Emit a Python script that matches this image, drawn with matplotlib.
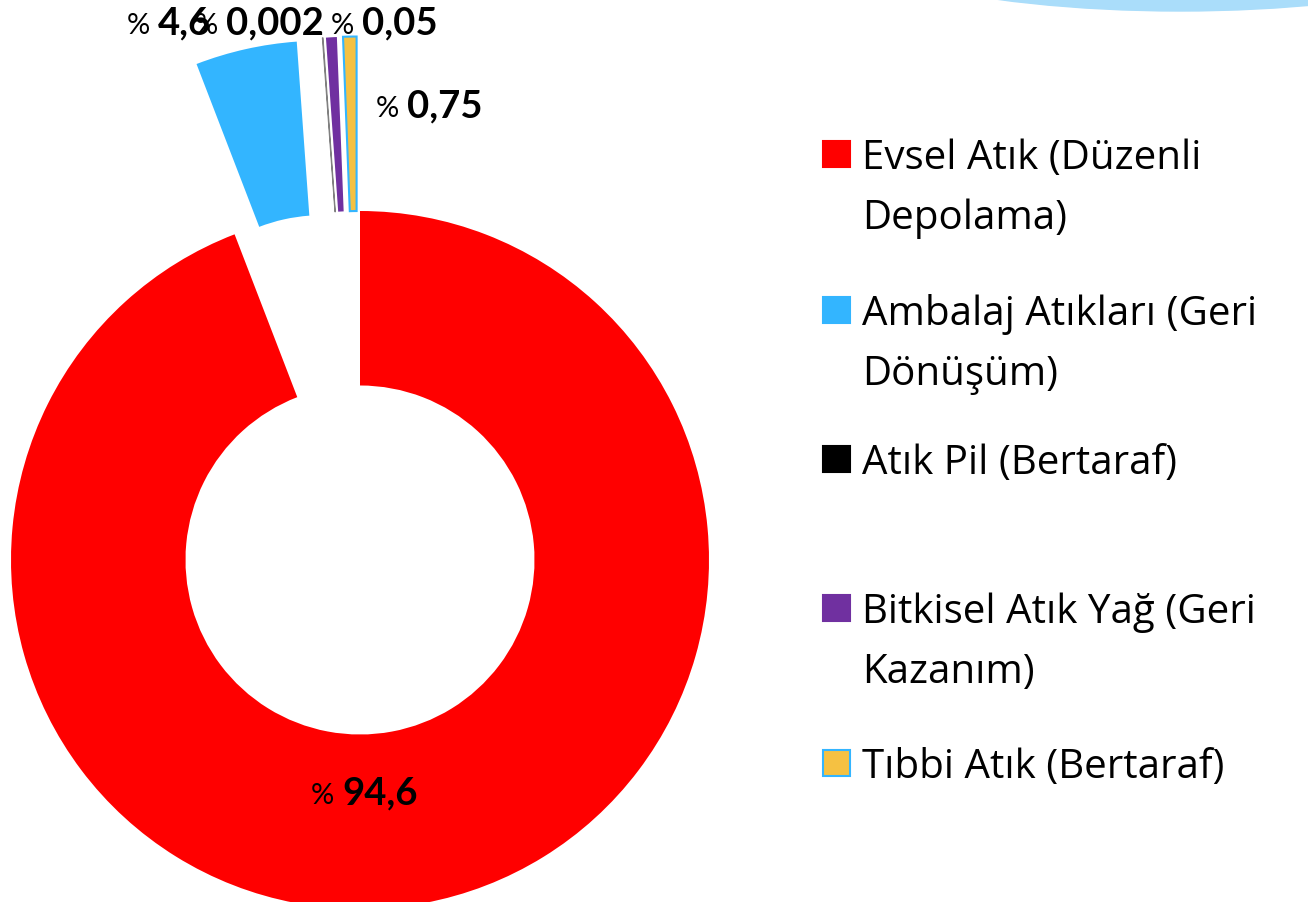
import matplotlib.pyplot as plt
from matplotlib.patches import Ellipse, Rectangle

# slice sizes as drawn in the chart (percent), legend order
categories = ['Evsel Atık (Düzenli\nDepolama)',
              'Ambalaj Atıkları (Geri\nDönüşüm)',
              'Atık Pil (Bertaraf)',
              'Bitkisel Atık Yağ (Geri\nKazanım)',
              'Tıbbi Atık (Bertaraf)']
shares = [94.15, 4.7, 0.03, 0.5, 0.62]
value_labels = ['94,6', '4,6', '0,002', '0,75', '0,05']
colors = ['#FF0000', '#33B5FF', '#000000', '#7030A0', '#F5C142']
edge_colors = ['none', 'none', '#808080', 'none', '#33B5FF']

W, H = 1308, 903
CX, CY, R = 360, 561, 349   # pie centre / radius in pixels

fig = plt.figure(figsize=(W / 100, H / 100), dpi=100)
ax = fig.add_axes([0, 0, 1, 1])

wedges, _ = ax.pie(shares, colors=colors, startangle=90, counterclock=False,
                   explode=[0, 0.5, 0.5, 0.5, 0.5], radius=1,
                   wedgeprops=dict(width=0.5, linewidth=0))
for w, ec in zip(wedges, edge_colors):
    if ec != 'none':
        w.set_edgecolor(ec)
        w.set_linewidth(1.5 if ec == '#33B5FF' else 0.8)

ax.set_xlim(-CX / R, (W - CX) / R)
ax.set_ylim((CY - H) / R, CY / R)
ax.set_aspect('equal')
ax.axis('off')

# decorative light blue shape at the top right
deco = Ellipse((1180 / W, 1 - (12 - 100) / H), 2 * 390 / W, 2 * 100 / H,
               transform=fig.transFigure, color='#AADDFA', zorder=0)
fig.add_artist(deco)

def fx(x):
    return x / W

def fy(y):
    return 1 - y / H

# data labels: (left of "%" , baseline) in pixels
label_pos = [(311, 804), (127, 34), (195, 34), (376, 117), (331, 34)]
for (x, y), txt in zip(label_pos, value_labels):
    fig.text(fx(x), fy(y), '%', fontsize=21, family='Lato', va='baseline', ha='left')
    fig.text(fx(x + 31), fy(y), txt, fontsize=27.5, family='Lato',
             fontweight='bold', va='baseline', ha='left')

# legend
legend_base = [169, 325, 474, 623, 778]
for cat, col, ec, y in zip(categories, colors, edge_colors, legend_base):
    sq = Rectangle((fx(823), fy(y - 1)), 27 / W, 26 / H, transform=fig.transFigure,
                   facecolor=col, edgecolor=ec if ec == '#33B5FF' else col,
                   linewidth=1.5)
    fig.add_artist(sq)
    for i, line in enumerate(cat.split('\n')):
        fig.text(fx(862), fy(y + 60 * i), line, fontsize=29, family='Open Sans',
                 va='baseline', ha='left')

fig.savefig('out.png', dpi=100)
